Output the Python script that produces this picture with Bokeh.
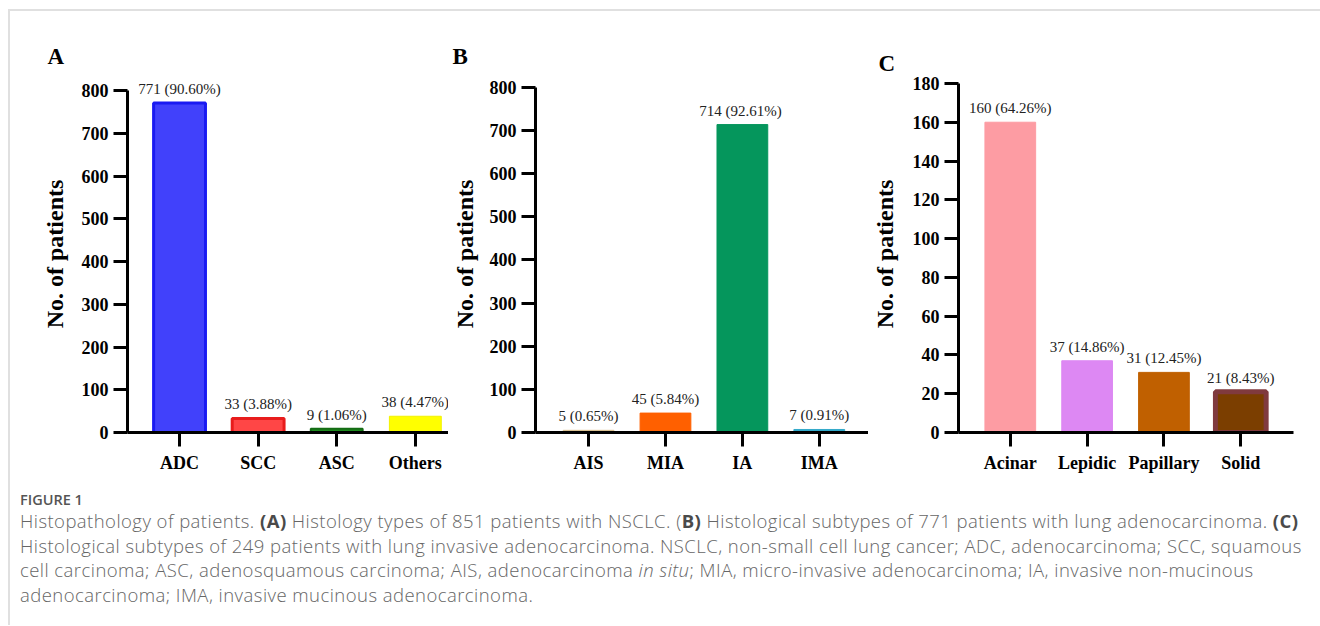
from bokeh.plotting import figure
from bokeh.models import Range1d, FixedTicker, Title, Div, ColumnDataSource
from bokeh.layouts import row, column
from bokeh.core.properties import value
from bokeh.embed import file_html
from bokeh.resources import INLINE

# ---------------- data ----------------
cats_a = ["ADC", "SCC", "ASC", "Others"]
vals_a = [771, 33, 9, 38]
labels_a = ["771 (90.60%)", "33 (3.88%)", "9 (1.06%)", "38 (4.47%)"]

cats_b = ["AIS", "MIA", "IA", "IMA"]
vals_b = [5, 45, 714, 7]
labels_b = ["5 (0.65%)", "45 (5.84%)", "714  (92.61%)", "7 (0.91%)"]

cats_c = ["Acinar", "Lepidic", "Papillary", "Solid"]
vals_c = [160, 37, 31, 21]
labels_c = ["160 (64.26%)", "37 (14.86%)", "31 (12.45%)", "21 (8.43%)"]

yticks_ab = [0, 100, 200, 300, 400, 500, 600, 700, 800]
yticks_c = [0, 20, 40, 60, 80, 100, 120, 140, 160, 180]

# ---------------- styles ----------------
fill_a = ["#4141fb", "#ff4646", "#1e8a1e", "#ffff00"]
line_a = ["#1a1af2", "#e81c1c", "#146c14", "#f2f200"]
lw_a = [3, 3, 2, 1]
fill_b = ["#d8bf8e", "#ff6000", "#05965c", "#33a9c9"]
line_b = ["#d8bf8e", "#ff6000", "#05965c", "#33a9c9"]
lw_b = [1, 1, 1, 1]
fill_c = ["#fd9ca3", "#dd88f3", "#c06000", "#7b3e00"]
line_c = ["#fd9ca3", "#dd88f3", "#c06000", "#803a3e"]
lw_c = [1, 1, 1, 5]

SERIF = "Liberation Serif"
FIG_H = 470
MB_TOP = 64
MB_BOTTOM = 49


def panel(cats, vals, labels, fills, lines, lws, yticks, y_axis_top, y_end,
          x_start, x_end, width, mb_left, mb_right, label_standoff,
          letter, letter_offset, letter_standoff):
    xpos = list(range(len(cats)))
    src = ColumnDataSource(dict(x=xpos, top=vals, lab=labels,
                                fill=fills, line=lines, lw=lws))
    p = figure(width=width, height=FIG_H,
               x_range=Range1d(x_start, x_end), y_range=Range1d(0, y_end),
               output_backend="svg", toolbar_location=None,
               min_border_left=mb_left, min_border_right=mb_right,
               min_border_top=MB_TOP, min_border_bottom=MB_BOTTOM)
    p.outline_line_color = None
    p.xgrid.visible = False
    p.ygrid.visible = False

    p.vbar(x="x", top="top", width=0.66, source=src,
           fill_color="fill", line_color="line", line_width="lw")
    p.text(x="x", y="top", text="lab", source=src,
           text_align="center", text_baseline="bottom", y_offset=-6,
           text_font=value(SERIF), text_font_size="15px", text_color="#222222")

    for ax in (p.xaxis[0], p.yaxis[0]):
        ax.axis_line_width = 3
        ax.axis_line_color = "black"
        ax.major_tick_line_width = 3
        ax.major_tick_line_color = "black"
        ax.major_tick_out = 14
        ax.major_tick_in = 0
        ax.minor_tick_out = 0
        ax.minor_tick_in = 0
        ax.major_label_text_font = SERIF
        ax.major_label_text_font_style = "bold"
        ax.major_label_text_font_size = "18px"
        ax.major_label_text_color = "black"

    p.xaxis.ticker = FixedTicker(ticks=xpos)
    p.xaxis.major_label_overrides = {i: c for i, c in enumerate(cats)}
    p.xaxis.major_label_standoff = 6

    p.yaxis.ticker = FixedTicker(ticks=yticks)
    p.yaxis.bounds = (0, y_axis_top)
    p.yaxis.major_label_standoff = 5
    p.yaxis.axis_label = "No. of patients"
    p.yaxis.axis_label_text_font = SERIF
    p.yaxis.axis_label_text_font_style = "bold"
    p.yaxis.axis_label_text_font_size = "24px"
    p.yaxis.axis_label_text_color = "black"
    p.yaxis.axis_label_standoff = label_standoff

    p.add_layout(Title(text=letter, align="left", offset=letter_offset,
                       standoff=letter_standoff, vertical_align="bottom",
                       text_font=SERIF, text_font_style="bold",
                       text_font_size="23px", text_color="black"), "above")
    return p


pA = panel(cats_a, vals_a, labels_a, fill_a, line_a, lw_a, yticks_ab, 800, 835.1,
           -0.662, 3.422, 438, 117, 0, 11, "A", -80, 13)
pB = panel(cats_b, vals_b, labels_b, fill_b, line_b, lw_b, yticks_ab, 800, 827.8,
           -0.69, 3.64, 420, 81, 0, 9, "B", -83, 13)
pC = panel(cats_c, vals_c, labels_c, fill_c, line_c, lw_c, yticks_c, 180, 184.1,
           -0.674, 3.686, 444, 82, 19, 12, "C", -80, 0)

B_OPEN = '<b style="color:#4a4a4a;font-weight:700">'
caption_lines = [
    'Histopathology of patients. ' + B_OPEN + '(A)</b> Histology types of 851 patients with NSCLC. '
    '(' + B_OPEN + 'B)</b> Histological subtypes of 771 patients with lung adenocarcinoma. '
    + B_OPEN + '(C)</b>',
    'Histological subtypes of 249 patients with lung invasive adenocarcinoma. NSCLC, non-small cell lung '
    'cancer; ADC, adenocarcinoma; SCC, squamous',
    'cell carcinoma; ASC, adenosquamous carcinoma; AIS, adenocarcinoma <i>in situ</i>; MIA, micro-invasive '
    'adenocarcinoma; IA, invasive non-mucinous',
    'adenocarcinoma; IMA, invasive mucinous adenocarcinoma.',
]
cap_html = (
    '<div style="font-family:\'Open Sans\';color:#666666;padding:5px 0 0 5px;white-space:nowrap;">'
    '<div style="font-size:14.5px;line-height:18px;color:#555555;font-weight:600;">FIGURE 1</div>'
    '<div style="font-size:18.5px;line-height:24.7px;letter-spacing:0.45px;font-weight:300;">'
    + '<br>'.join(caption_lines) + '</div></div>'
)
cap = Div(text=cap_html, width=1310, height=134)

layout = column(row(pA, pB, pC), cap, margin=(9, 0, 0, 8),
                styles={"border-left": "2px solid #e0e0e0", "border-top": "2px solid #e0e0e0"})

with open("out.html", "w") as f:
    f.write(file_html(layout, INLINE))
